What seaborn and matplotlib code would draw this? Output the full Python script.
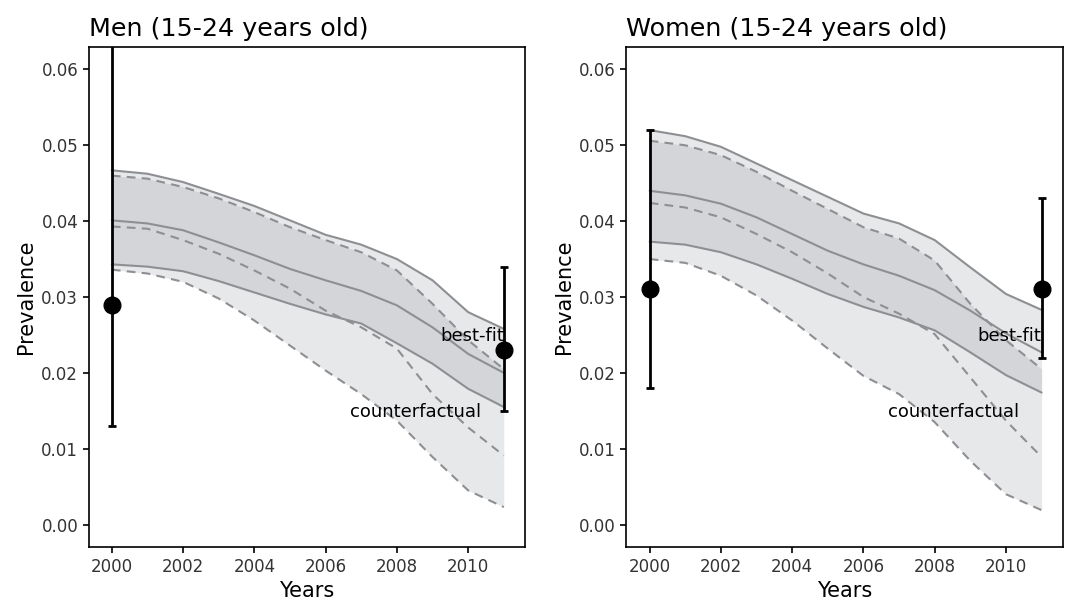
import numpy as np
import pandas as pd
import matplotlib
matplotlib.use('Agg')
import matplotlib.pyplot as plt
import seaborn as sns

years = list(range(2000, 2012))

# men: best-fit band (solid) and counterfactual band (dashed)
men_fit_hi = [0.0467, 0.04625, 0.04515, 0.0436, 0.0420, 0.0401, 0.0382, 0.0369, 0.0350, 0.0322, 0.0280, 0.0258]
men_fit_mid = [0.0401, 0.0397, 0.0388, 0.0372, 0.0355, 0.0337, 0.0322, 0.0308, 0.0289, 0.0260, 0.0225, 0.0200]
men_fit_lo = [0.0343, 0.0340, 0.0334, 0.0321, 0.0306, 0.0291, 0.0277, 0.0265, 0.0239, 0.0212, 0.0179, 0.0155]
men_cf_hi = [0.0460, 0.0456, 0.0445, 0.0430, 0.0412, 0.0392, 0.0375, 0.0359, 0.0335, 0.0291, 0.0243, 0.0205]
men_cf_mid = [0.0393, 0.0390, 0.0375, 0.0357, 0.0335, 0.0311, 0.0282, 0.0260, 0.0232, 0.0172, 0.0128, 0.0091]
men_cf_lo = [0.0336, 0.0331, 0.0320, 0.0298, 0.0269, 0.0236, 0.0203, 0.0172, 0.0137, 0.0089, 0.0045, 0.0023]

# women
women_fit_hi = [0.0520, 0.0512, 0.0498, 0.0476, 0.0454, 0.0432, 0.0410, 0.0397, 0.0375, 0.0339, 0.0304, 0.0283]
women_fit_mid = [0.0440, 0.0434, 0.0423, 0.0405, 0.0383, 0.0361, 0.0343, 0.0328, 0.0309, 0.0282, 0.0252, 0.0227]
women_fit_lo = [0.0373, 0.0369, 0.0359, 0.0343, 0.0324, 0.0304, 0.0287, 0.0273, 0.0256, 0.0227, 0.0197, 0.0174]
women_cf_hi = [0.0506, 0.0500, 0.0487, 0.0465, 0.0440, 0.0416, 0.0392, 0.0377, 0.0348, 0.0291, 0.0243, 0.0205]
women_cf_mid = [0.0424, 0.0418, 0.0405, 0.0383, 0.0359, 0.0331, 0.0300, 0.0278, 0.0251, 0.0194, 0.0137, 0.0089]
women_cf_lo = [0.0350, 0.0345, 0.0328, 0.0302, 0.0269, 0.0232, 0.0196, 0.0172, 0.0135, 0.0084, 0.0040, 0.0019]

# survey data points with intervals
obs_years = [2000, 2011]
men_obs = [0.029, 0.023]
men_obs_lo = [0.013, 0.015]
men_obs_hi = [0.075, 0.034]
women_obs = [0.031, 0.031]
women_obs_lo = [0.018, 0.022]
women_obs_hi = [0.052, 0.043]

titles = ['Men (15-24 years old)', 'Women (15-24 years old)']

sns.set_style('ticks')
plt.rcParams['font.family'] = ['DejaVu Sans']
plt.rcParams['text.color'] = 'black'

FILL = '#767985'
LINE = '#8e8f92'


def draw_panel(ax, title, fit, cf, obs, obs_lo, obs_hi):
    fit_hi, fit_mid, fit_lo = fit
    cf_hi, cf_mid, cf_lo = cf
    ax.fill_between(years, fit_lo, fit_hi, color=FILL, alpha=0.17, lw=0)
    ax.fill_between(years, cf_lo, cf_hi, color=FILL, alpha=0.17, lw=0)
    for vals in fit:
        sns.lineplot(x=years, y=vals, ax=ax, color=LINE, lw=1.5)
    for vals in cf:
        sns.lineplot(x=years, y=vals, ax=ax, color=LINE, lw=1.5,
                     linestyle=(0, (4.2, 3.0)))
    obs = np.array(obs)
    yerr = [obs - np.array(obs_lo), np.array(obs_hi) - obs]
    ax.errorbar(obs_years, obs, yerr=yerr, fmt='o', color='black', ms=12,
                elinewidth=2, capsize=3, capthick=2, zorder=5)
    ax.text(2011, 0.0249, 'best-fit', ha='right', va='center', fontsize=13,
            color='black', zorder=4)
    ax.text(2010.37, 0.0149, 'counterfactual', ha='right', va='center', fontsize=13,
            color='black', zorder=4)

    ax.set_xlim(1999.35, 2011.6)
    ax.set_ylim(-0.003, 0.063)
    ax.set_xticks([2000, 2002, 2004, 2006, 2008, 2010])
    ax.set_yticks([0.00, 0.01, 0.02, 0.03, 0.04, 0.05, 0.06])
    ax.set_yticklabels(['%.2f' % t for t in ax.get_yticks()])
    ax.set_title(title, loc='left', fontsize=18.3, pad=8, color='black')
    ax.set_xlabel('Years', fontsize=15, color='black')
    ax.set_ylabel('Prevalence', fontsize=15, color='black')
    ax.tick_params(colors='black', labelcolor='#333333', labelsize=12,
                   length=4, width=1.2)
    for sp in ax.spines.values():
        sp.set_visible(True)
        sp.set_color('black')
        sp.set_linewidth(1.2)


fig, axes = plt.subplots(1, 2, figsize=(10.72, 6), dpi=100)
fig.subplots_adjust(left=0.0827, right=0.9916, bottom=0.0878, top=0.9222, wspace=0.232)

draw_panel(axes[0], titles[0],
           (men_fit_hi, men_fit_mid, men_fit_lo),
           (men_cf_hi, men_cf_mid, men_cf_lo),
           men_obs, men_obs_lo, men_obs_hi)
draw_panel(axes[1], titles[1],
           (women_fit_hi, women_fit_mid, women_fit_lo),
           (women_cf_hi, women_cf_mid, women_cf_lo),
           women_obs, women_obs_lo, women_obs_hi)

fig.savefig('out.png', dpi=100)
